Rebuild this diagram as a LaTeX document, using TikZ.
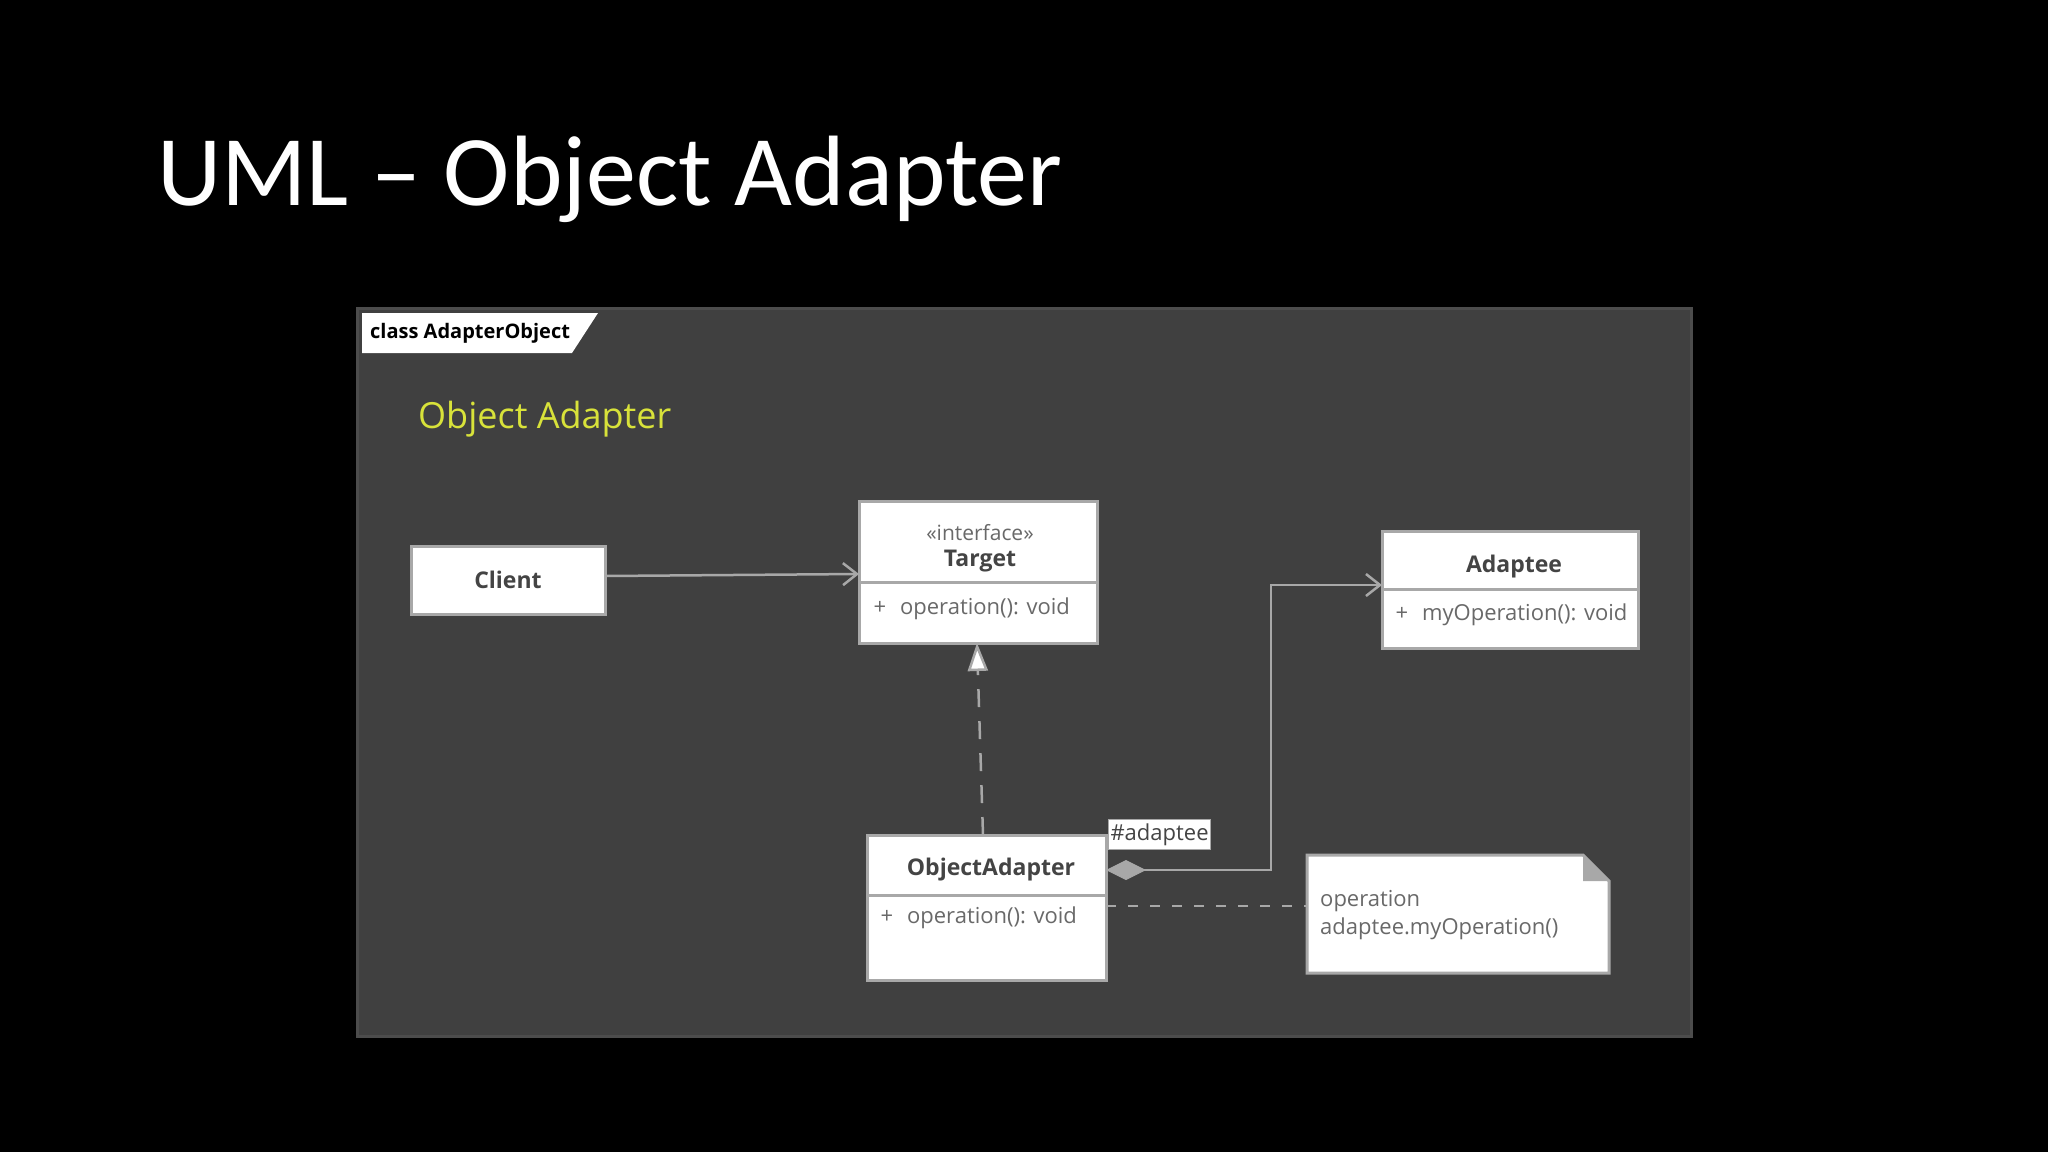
\documentclass[tikz,border=0pt]{standalone}
\usepackage{fontspec}
\setmainfont{Open Sans}
\newfontfamily\titlefont{Carlito}
\usetikzlibrary{arrows.meta}
\definecolor{panel}{HTML}{404040}
\definecolor{edge}{HTML}{A8A8A8}
\definecolor{yel}{HTML}{D8E23A}
\definecolor{txt}{HTML}{444444}
\tikzset{
  box/.style={draw=edge,fill=white,line width=3pt},
  hdr/.style={font=\fontsize{23}{26}\selectfont\bfseries,text=txt},
  att/.style={font=\fontsize{22}{26}\selectfont,text=txt!80,anchor=west},
  conn/.style={draw=edge,line width=2.5pt},
  openarr/.style={-{Straight Barb[length=14pt,width=22pt,line width=2.5pt]}},
}
\begin{document}
\begin{tikzpicture}[x=1pt,y=-1pt]
\fill[black] (0,0) rectangle (2048,1152);
\useasboundingbox (0,0) rectangle (2048,1152);
\node[anchor=base west,inner sep=0,text=white,font=\titlefont\fontsize{100}{110}\selectfont] (title) at (157,205) {UML – Object Adapter};
% panel
\draw[fill=panel,draw=gray!60!black,line width=3pt] (357,308) rectangle (1691,1036);
\fill[white] (362,313) -- (598,313) -- (572,353) -- (362,353) -- cycle;
\node[anchor=west,inner sep=0,font=\fontsize{20}{22}\selectfont\bfseries] (tab) at (370,333) {class AdapterObject};
\node[anchor=west,inner sep=0,text=yel,font=\fontsize{36}{40}\selectfont] (heading) at (418,419) {Object Adapter};
% Client
\draw[box] (411,546) rectangle (605,614);
\node[hdr] (client) at (508,580) {Client};
\coordinate (clientE) at (605,576);
% Target
\draw[box] (859,501) rectangle (1097,643);
\draw[edge,line width=3pt] (859,582) -- (1097,582);
\node[font=\fontsize{21}{24}\selectfont,text=txt!80] (stereo) at (980,533) {«interface»};
\node[hdr] (target) at (980,561) {Target};
\node[att] (topo) at (870,609) {+\hspace{14pt}operation(): void};
\coordinate (targetW) at (859,574);
\coordinate (targetS) at (977,643);
% Adaptee
\begin{scope}
\clip (1379,528) rectangle (1641,651);
\draw[box] (1382,531) rectangle (1638,648);
\draw[edge,line width=3pt] (1382,589) -- (1638,589);
\node[hdr] (adaptee) at (1514,567) {Adaptee};
\node[att] (aop) at (1392,615) {+\hspace{14pt}myOperation(): void};
\end{scope}
\coordinate (adapteeW) at (1382,585);
% ObjectAdapter
\draw[box] (867,835) rectangle (1106,980);
\draw[edge,line width=3pt] (867,895) -- (1106,895);
\node[hdr] (oa) at (991,870) {ObjectAdapter};
\node[att] (oaop) at (877,918) {+\hspace{14pt}operation(): void};
\coordinate (oaN) at (983,835);
\coordinate (oaE) at (1106,870);
\coordinate (oaE2) at (1106,906);
% Note
\draw[box] (1307,855) -- (1583,855) -- (1609,881) -- (1609,973) -- (1307,973) -- cycle;
\fill[edge] (1583,855) -- (1609,881) -- (1583,881) -- cycle;
\node[anchor=north west,align=left,inner sep=0,font=\fontsize{22}{28}\selectfont,text=txt!80] (note) at (1320,890) {operation\\adaptee.myOperation()};
\coordinate (noteW) at (1307,906);
% #adaptee label
\node[fill=white,draw=edge,line width=1pt,inner sep=2pt,anchor=north west,minimum height=30pt,font=\fontsize{22}{24}\selectfont,text=txt] (role) at (1108,819) {\#adaptee};
% connectors
\draw[conn,openarr] (clientE) -- (targetW);
\draw[conn,dashed,dash pattern=on 18pt off 14pt,-{Triangle[open,fill=white,length=28pt,width=20pt,line width=2.5pt]}] (oaN) -- (targetS);
\draw[conn,openarr,{Diamond[fill=edge,length=40pt,width=20pt,line width=1pt]}-{Straight Barb[length=14pt,width=22pt,line width=2.5pt]}] (oaE) -- (1271,870) -- (1271,585) -- (adapteeW);
\draw[conn,dash pattern=on 10pt off 12pt] (oaE2) -- (noteW);
\end{tikzpicture}
\end{document}
